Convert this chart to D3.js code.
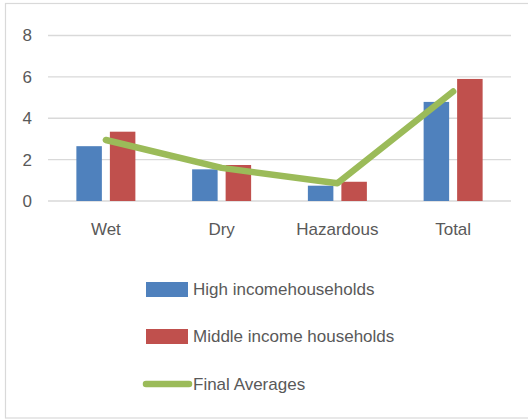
<!DOCTYPE html>
<html><head><meta charset="utf-8">
<script src="https://cdn.jsdelivr.net/npm/d3@7"></script>
<style>body{margin:0;background:#fff}svg{display:block}text{font-family:"Liberation Sans",Arial,sans-serif;fill:#595959}</style>
</head><body>
<svg id="c" width="528" height="419"></svg>
<script>
const categories = ["Wet", "Dry", "Hazardous", "Total"];
const highIncome = [2.65, 1.53, 0.74, 4.79];
const middleIncome = [3.35, 1.74, 0.93, 5.9];
const finalAverages = [2.95, 1.6, 0.86, 5.29];
const yTicks = [0, 2, 4, 6, 8];
const seriesNames = ["High incomehouseholds", "Middle income households", "Final Averages"];
const colors = ["#4F81BD", "#C0504D", "#9BBB59"];

const svg = d3.select("#c");
svg.append("rect").attr("x", 5.5).attr("y", 3.5).attr("width", 540).attr("height", 414.5)
  .attr("fill", "#fff").attr("stroke", "#D9D9D9").attr("stroke-width", 1.2);

const x = d3.scaleBand().domain(categories).range([48, 511]);
const y = d3.scaleLinear().domain([0, 8]).range([201, 35.5]);
const barW = 25.5, gap = 8;

const g = svg.append("g");
g.selectAll("line.grid").data(yTicks).join("line")
  .attr("x1", 48).attr("x2", 511).attr("y1", d => y(d)).attr("y2", d => y(d))
  .attr("stroke", "#D9D9D9").attr("stroke-width", 1.3);

const yAxis = d3.axisLeft(y).tickValues(yTicks).tickSize(0).tickPadding(16);
const ya = svg.append("g").attr("transform", "translate(48,0)").call(yAxis);
ya.select(".domain").remove();
ya.selectAll("text").attr("font-size", 17).attr("fill", "#595959").attr("font-family", "Liberation Sans, Arial, sans-serif");

const xAxis = d3.axisBottom(x).tickSize(0).tickPadding(22);
const xa = svg.append("g").attr("transform", "translate(0,201)").call(xAxis);
xa.select(".domain").remove();
xa.selectAll("text").attr("font-size", 17).attr("fill", "#595959").attr("font-family", "Liberation Sans, Arial, sans-serif");

const cx = c => x(c) + x.bandwidth() / 2;
g.selectAll("rect.hi").data(highIncome).join("rect")
  .attr("x", (d, i) => cx(categories[i]) - gap / 2 - barW)
  .attr("width", barW).attr("y", d => y(d)).attr("height", d => y(0) - y(d))
  .attr("fill", colors[0]);
g.selectAll("rect.mi").data(middleIncome).join("rect")
  .attr("x", (d, i) => cx(categories[i]) + gap / 2)
  .attr("width", barW).attr("y", d => y(d)).attr("height", d => y(0) - y(d))
  .attr("fill", colors[1]);

const line = d3.line().x((d, i) => cx(categories[i])).y(d => y(d));
g.append("path").attr("d", line(finalAverages)).attr("fill", "none")
  .attr("stroke", colors[2]).attr("stroke-width", 6.5).attr("stroke-linejoin", "round").attr("stroke-linecap", "round");

// legend
const leg = svg.append("g");
const rows = [289.5, 336.5, 384];
leg.append("rect").attr("x", 146).attr("y", 282).attr("width", 42).attr("height", 15).attr("fill", colors[0]);
leg.append("rect").attr("x", 146).attr("y", 329).attr("width", 42).attr("height", 15).attr("fill", colors[1]);
leg.append("line").attr("x1", 146).attr("x2", 189).attr("y1", 384).attr("y2", 384)
  .attr("stroke", colors[2]).attr("stroke-width", 6.5).attr("stroke-linecap", "round");
leg.selectAll("text").data(seriesNames).join("text")
  .attr("x", 193).attr("y", (d, i) => rows[i]).attr("dy", "0.35em")
  .attr("font-size", 17).text(d => d);
</script>
</body></html>
